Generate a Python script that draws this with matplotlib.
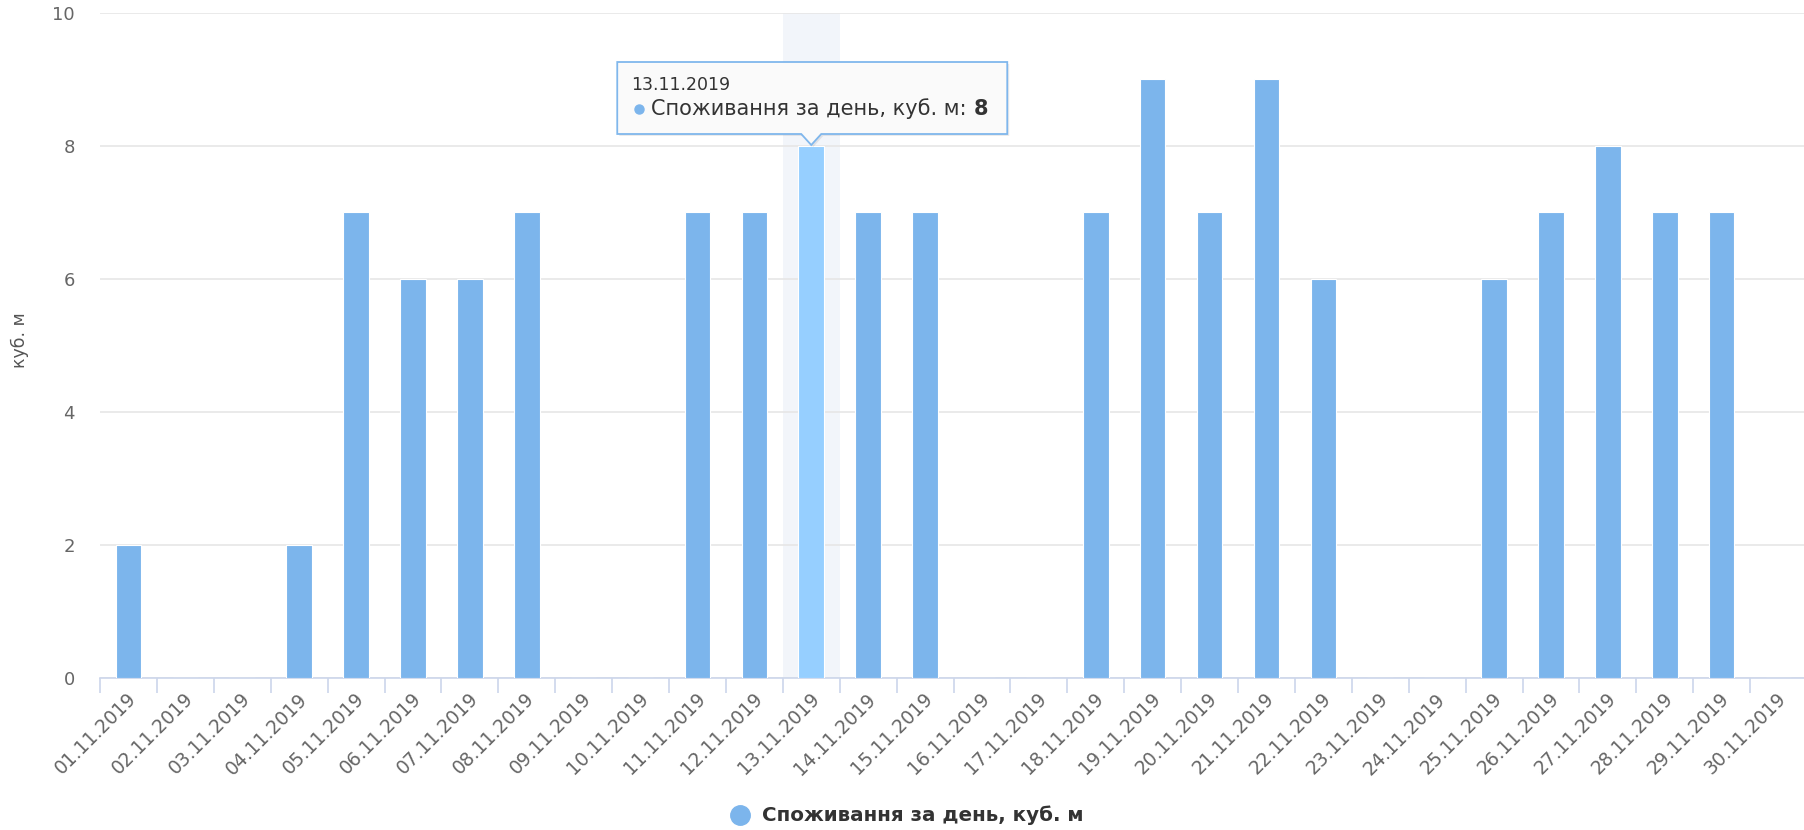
import matplotlib
matplotlib.use("Agg")
import matplotlib.pyplot as plt
import matplotlib.transforms as mtransforms
from matplotlib.patches import Polygon
from matplotlib.lines import Line2D
import numpy as np

plt.rcParams['font.family'] = ['DejaVu Sans']

# дані: споживання за день, листопад 2019
days = [f"{d:02d}.11.2019" for d in range(1, 31)]
values = [2, 0, 0, 2, 7, 6, 6, 7, 0, 0,
          7, 7, 8, 7, 7, 0, 0, 7, 9, 7,
          9, 6, 0, 0, 6, 7, 8, 7, 7, 0]
y_ticks = [0, 2, 4, 6, 8, 10]
series_name = "Споживання за день, куб. м"
y_title = "куб. м"
hover_idx = 12

BAR = '#7cb5ec'
BAR_HOVER = '#96cfff'

W, H = 1804, 830
fig = plt.figure(figsize=(W / 100, H / 100), dpi=100)
ax = fig.add_axes([100 / W, 1 - 678 / H, (1807 - 100) / W, 665 / H])

x = np.arange(len(days))

# підсвітка категорії під курсором
ax.axvspan(hover_idx - 0.5, hover_idx + 0.5, color='#f2f5fa', zorder=0, lw=0)

colors = [BAR_HOVER if i == hover_idx else BAR for i in range(len(days))]
ax.bar(x, values, width=0.45, color=colors, edgecolor='white', linewidth=0.8, zorder=3)

ax.set_xlim(-0.5, len(days) - 0.5)
ax.set_ylim(0, 10)
ax.set_yticks(y_ticks)
ax.yaxis.grid(True, color='#e6e6e6', linewidth=1.2, zorder=1)
ax.set_axisbelow(True)

for s in ['top', 'right', 'left']:
    ax.spines[s].set_visible(False)
ax.spines['bottom'].set_color('#ccd6eb')
ax.spines['bottom'].set_linewidth(1.2)

ax.tick_params(axis='y', length=0, pad=18, labelsize=13, labelcolor='#666666')

# мітки по центру категорій, риски на межах
ax.set_xticks(x)
ax.set_xticklabels(days, rotation=45, ha='right', va='center', rotation_mode='anchor',
                   fontsize=13.5, color='#666666')
ax.set_xticks(np.arange(-0.5, len(days), 1), minor=True)
ax.tick_params(axis='x', which='major', length=0, pad=13)
ax.tick_params(axis='x', which='minor', length=11, width=1.2, color='#ccd6eb')
shift = mtransforms.ScaledTranslation(5 / 100, 0, fig.dpi_scale_trans)
for lbl in ax.get_xticklabels():
    lbl.set_transform(lbl.get_transform() + shift)

fig.text(20 / W, 1 - 340 / H, y_title, rotation=90, ha='center', va='center',
         fontsize=12.5, color='#555555')

# підказка (tooltip)
tip = mtransforms.Affine2D() + mtransforms.ScaledTranslation(hover_idx, values[hover_idx], ax.transData)
box = [(-194, 12), (-10, 12), (0, 1), (10, 12), (196, 12), (196, 84), (-194, 84)]
shadow = Polygon([(px + 2, py - 2) for px, py in box], closed=True, transform=tip,
                 facecolor='#000000', alpha=0.08, edgecolor='none', zorder=8)
shadow.set_clip_on(False)
ax.add_patch(shadow)
poly = Polygon(box, closed=True, transform=tip, facecolor='#fbfbfb', alpha=0.97,
               edgecolor=BAR, linewidth=1.3, zorder=9)
poly.set_clip_on(False)
ax.add_patch(poly)

ax.text(-180, 61, days[hover_idx], transform=tip, fontsize=12.5, color='#333333',
        ha='left', va='center', zorder=10)
ax.plot([-172], [37], marker='o', markersize=6.5, color=BAR, transform=tip,
        zorder=10, clip_on=False)
t1 = ax.text(-160, 37, series_name + ": ", transform=tip, fontsize=15, color='#333333',
             ha='left', va='center', zorder=10)
ax.annotate(str(values[hover_idx]), xy=(1, 0.5), xycoords=t1, ha='left', va='center',
            fontsize=15, fontweight='bold', color='#333333', zorder=10)

# легенда
fig.add_artist(Line2D([740 / W], [1 - 815 / H], marker='o', markersize=14, color=BAR,
                      transform=fig.transFigure))
fig.text(762 / W, 1 - 815 / H, series_name, fontsize=14.3, fontweight='bold',
         color='#333333', ha='left', va='center')

fig.savefig('out.png', dpi=100)
